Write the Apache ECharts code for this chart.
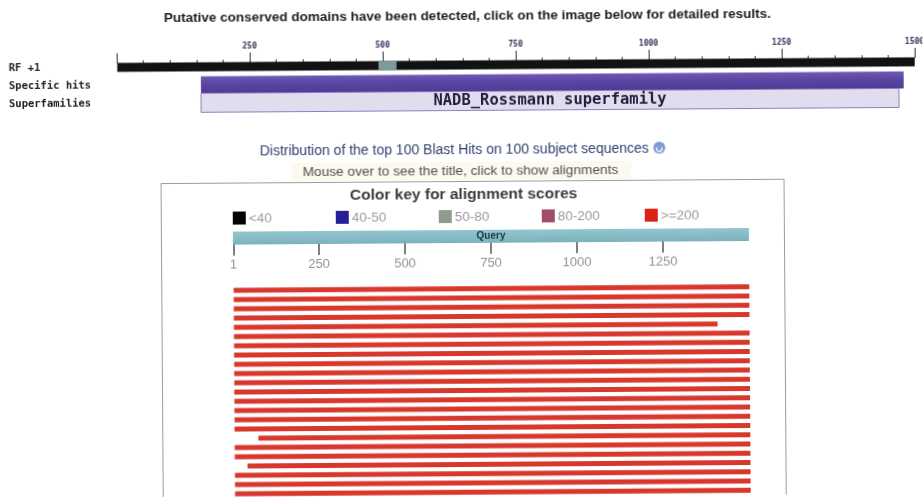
<!DOCTYPE html>
<html>
<head>
<meta charset="utf-8">
<script src="https://cdn.jsdelivr.net/npm/echarts@6/dist/echarts.min.js"></script>
<style>
html,body{margin:0;padding:0;background:#ffffff;overflow:hidden;}
#chart{width:924px;height:497px;transform:rotate(-0.4deg);transform-origin:462px 248px;}
</style>
</head>
<body>
<div id="chart"></div>
<script>
// ---- Conserved domain track (query coordinates) ----
const queryLength = 1500;
const domainTracks = ['RF +1', 'Specific hits', 'Superfamilies'];
const rfSpan = [1, 1500];
const rfMarked = [492, 526];
const specificHit = [158, 1479];
const superfamily = [158, 1470];
const superfamilyName = 'NADB_Rossmann superfamily';

// ---- Distribution of BLAST hits ----
const queryTicks = [1, 250, 500, 750, 1000, 1250];
const scoreKeyLabels = ['<40', '40-50', '50-80', '80-200', '>=200'];
const scoreKeyColors = ['#050505', '#25209a', '#8e9b8d', '#a24c6b', '#dc2119'];
const hitStarts = [1, 1, 1, 1, 1, 1, 1, 1, 1, 1, 1, 1, 1, 1, 1, 1, 70, 1, 1, 38, 1, 1, 1];
const hitEnds = [1500, 1500, 1500, 1500, 1407, 1500, 1500, 1500, 1500, 1500, 1500, 1500,
                 1500, 1500, 1500, 1500, 1500, 1500, 1500, 1500, 1500, 1500, 1500];
const hitLabels = hitStarts.map((_, i) => 'hit ' + (i + 1));

const chart = echarts.init(document.getElementById('chart'), null, { renderer: 'canvas' });

// Horizontal span drawn in a given track row, with a fixed pixel thickness
function spanRenderer(thickness, style, text, textStyle) {
  return function (params, api) {
    const row = api.value(2);
    const a = api.coord([api.value(0), row]);
    const b = api.coord([api.value(1), row]);
    const el = {
      type: 'rect',
      shape: { x: a[0], y: a[1] - thickness / 2, width: b[0] - a[0], height: thickness },
      style: style
    };
    if (text) {
      el.textContent = { style: Object.assign({ text: text }, textStyle) };
      el.textConfig = { position: 'inside' };
    }
    return el;
  };
}

const monoFont = '"DejaVu Sans Mono", "Liberation Mono", monospace';
const sansFont = '"Liberation Sans", Arial, sans-serif';
const plainNumber = v => String(v);

const purpleFill = new echarts.graphic.LinearGradient(0, 0, 0, 1, [
  { offset: 0, color: '#6d59b4' },
  { offset: 0.45, color: '#5b45a3' },
  { offset: 1, color: '#4f3a94' }
]);
const queryFill = new echarts.graphic.LinearGradient(0, 0, 0, 1, [
  { offset: 0, color: '#93c6cf' },
  { offset: 1, color: '#7bb2bd' }
]);

// Score colour key built from the label/colour arrays
const keyGraphics = [];
scoreKeyLabels.forEach((lab, i) => {
  const x = 233 + i * 103;
  keyGraphics.push({
    type: 'rect', shape: { x: x, y: 210, width: 13, height: 13 },
    style: { fill: scoreKeyColors[i] }
  });
  keyGraphics.push({
    type: 'text', x: x + 16, y: 217,
    style: { text: lab, font: '13.5px ' + sansFont, fill: '#9a9a9a', verticalAlign: 'middle' }
  });
});

const option = {
  backgroundColor: '#ffffff',
  animation: false,
  grid: [
    { left: 118, right: 8, top: 56, height: 54, outerBoundsMode: 'none', containLabel: false },
    { left: 233, right: 175, top: 230, height: 13, outerBoundsMode: 'none', containLabel: false },
    { left: 233, right: 175, top: 284, height: 213, outerBoundsMode: 'none', containLabel: false }
  ],
  xAxis: [
    {
      gridIndex: 0, type: 'value', min: 0, max: queryLength, interval: 250,
      position: 'top', offset: -5,
      axisLine: { show: false },
      axisTick: { show: true, length: 10, lineStyle: { color: '#2b2b4a', width: 1 } },
      minorTick: { show: true, splitNumber: 5, length: 3, lineStyle: { color: '#3a3a55' } },
      axisLabel: {
        showMinLabel: false, margin: 12, fontSize: 8, fontWeight: 'bold',
        fontFamily: monoFont, color: '#2e2e58', formatter: plainNumber
      },
      splitLine: { show: false }
    },
    {
      gridIndex: 1, type: 'value', min: 0, max: queryLength,
      position: 'bottom',
      axisLine: { show: false },
      axisTick: { show: true, customValues: queryTicks, length: 11, lineStyle: { color: '#555555', width: 1.5 } },
      axisLabel: {
        customValues: queryTicks, margin: 14, fontSize: 13, fontFamily: sansFont,
        color: '#939393', formatter: plainNumber
      },
      splitLine: { show: false }
    },
    {
      gridIndex: 2, type: 'value', min: 0, max: queryLength, show: false, splitLine: { show: false }
    }
  ],
  yAxis: [
    {
      gridIndex: 0, type: 'category', data: domainTracks, inverse: true,
      axisLine: { show: false }, axisTick: { show: false },
      axisLabel: {
        align: 'left', margin: 108, fontSize: 10.5, fontWeight: 'bold',
        fontFamily: monoFont, color: '#222222'
      }
    },
    { gridIndex: 1, type: 'category', data: ['Query'], show: false },
    { gridIndex: 2, type: 'category', data: hitLabels, inverse: true, show: false }
  ],
  series: [
    {
      type: 'custom', xAxisIndex: 0, yAxisIndex: 0,
      renderItem: spanRenderer(9, { fill: '#121212' }),
      data: [[rfSpan[0], rfSpan[1], 0]]
    },
    {
      type: 'custom', xAxisIndex: 0, yAxisIndex: 0,
      renderItem: spanRenderer(9, { fill: '#7f9a9c' }),
      data: [[rfMarked[0], rfMarked[1], 0]]
    },
    {
      type: 'custom', xAxisIndex: 0, yAxisIndex: 0,
      renderItem: spanRenderer(17, { fill: purpleFill }),
      data: [[specificHit[0], specificHit[1], 1]]
    },
    {
      type: 'custom', xAxisIndex: 0, yAxisIndex: 0,
      renderItem: spanRenderer(19, { fill: '#e2dcef', stroke: '#8c80c0', lineWidth: 1 },
        superfamilyName, { font: 'bold 15.5px ' + monoFont, fill: '#241f3c' }),
      data: [[superfamily[0], superfamily[1], 2]]
    },
    {
      type: 'custom', xAxisIndex: 1, yAxisIndex: 1,
      renderItem: spanRenderer(13, { fill: queryFill },
        'Query', { font: 'bold 10px ' + sansFont, fill: '#1d3640' }),
      data: [[0, queryLength, 0]]
    },
    {
      type: 'custom', xAxisIndex: 2, yAxisIndex: 2,
      renderItem: spanRenderer(5, { fill: '#d8382c' }),
      data: hitStarts.map((s, i) => [s, hitEnds[i], i])
    }
  ],
  graphic: [
    {
      type: 'text', x: 469, y: 16,
      style: {
        text: 'Putative conserved domains have been detected, click on the image below for detailed results.',
        font: 'bold 13.5px ' + sansFont, fill: '#1e1e1e', align: 'center', verticalAlign: 'middle'
      }
    },
    {
      type: 'text', x: 455, y: 150,
      style: {
        text: 'Distribution of the top 100 Blast Hits on 100 subject sequences',
        font: '14px ' + sansFont, fill: '#33416f', align: 'center', verticalAlign: 'middle'
      }
    },
    { type: 'circle', shape: { cx: 660, cy: 149, r: 6 }, style: { fill: '#7d9bd4' } },
    { type: 'arc', shape: { cx: 660, cy: 150, r: 2.7, startAngle: -0.5, endAngle: 3.6 },
      style: { stroke: '#ffffff', lineWidth: 1.3, fill: null } },
    { type: 'rect', shape: { x: 292, y: 162, width: 340, height: 18 }, style: { fill: '#fcfaee' }, z: -1 },
    {
      type: 'text', x: 461, y: 171,
      style: {
        text: 'Mouse over to see the title, click to show alignments',
        font: '13.7px ' + sansFont, fill: '#4f4f4f', align: 'center', verticalAlign: 'middle'
      }
    },
    {
      type: 'rect', shape: { x: 161.5, y: 181.5, width: 623, height: 340 },
      style: { fill: null, stroke: '#9c9aa8', lineWidth: 1 }
    },
    {
      type: 'text', x: 464, y: 195,
      style: {
        text: 'Color key for alignment scores',
        font: 'bold 15.5px ' + sansFont, fill: '#3a3a3a', align: 'center', verticalAlign: 'middle'
      }
    }
  ].concat(keyGraphics)
};

chart.setOption(option);
</script>
</body>
</html>
